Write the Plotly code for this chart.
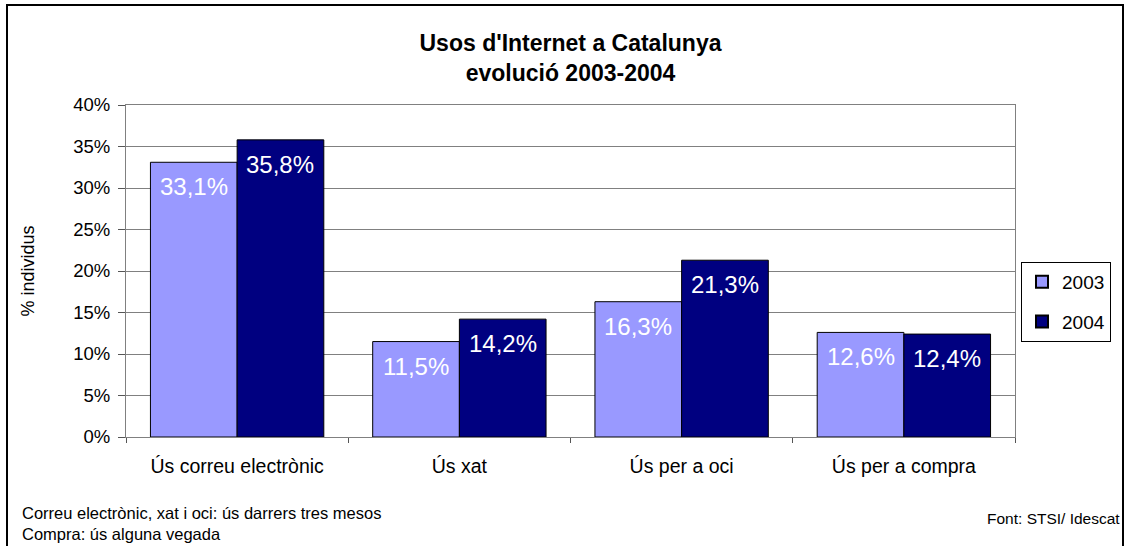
import plotly.graph_objects as go

categories = ["Ús correu electrònic", "Ús xat", "Ús per a oci", "Ús per a compra"]
years = ["2003", "2004"]
values_2003 = [33.1, 11.5, 16.3, 12.6]
values_2004 = [35.8, 14.2, 21.3, 12.4]
tick_values = [0, 5, 10, 15, 20, 25, 30, 35, 40]
tick_labels = ["0%", "5%", "10%", "15%", "20%", "25%", "30%", "35%", "40%"]

FONT = "Arial, Liberation Sans, sans-serif"
colors = {"2003": "#9999FF", "2004": "#000080"}

# plot area in pixels (for converting the outer frame to paper coords)
W, H = 1125, 546
L, R, T, B = 126, 110, 105, 109
pw, ph = W - L - R, H - T - B
BARGAP = 0.22


def px_to_paper_x(px):
    return (px - L) / pw


def px_to_paper_y(py):
    return (H - B - py) / ph


def fmt(v):
    return f"{v:.1f}%".replace(".", ",")


fig = go.Figure()
bar_px = pw / len(categories) * (1 - BARGAP) / 2
for i, (year, vals) in enumerate(zip(years, [values_2003, values_2004])):
    fig.add_trace(go.Bar(
        x=categories, y=vals, name=year, legendgroup=year,
        marker=dict(color=colors[year], line=dict(color="black", width=1)),
    ))
    # value labels near the top of each bar
    shift = (i - 0.5) * bar_px
    for c, v in zip(categories, vals):
        fig.add_annotation(
            x=c, y=v, xref="x", yref="y", text=fmt(v), showarrow=False,
            xshift=shift, yshift=-9, yanchor="top",
            font=dict(color="white", size=24, family=FONT),
        )

fig.update_layout(
    width=W, height=H,
    margin=dict(l=L, r=R, t=T, b=B, autoexpand=False),
    paper_bgcolor="white", plot_bgcolor="white",
    barmode="group", bargap=BARGAP, bargroupgap=0,
    font=dict(family=FONT, color="black"),
    title=dict(
        text="<b>Usos d'Internet a Catalunya<br>evolució 2003-2004</b>",
        x=0.5, xref="paper", xanchor="center",
        y=1 - 51 / H, yanchor="middle",
        font=dict(size=23, family=FONT, color="black"),
    ),
    legend=dict(
        x=px_to_paper_x(1021), xanchor="left",
        y=px_to_paper_y(262), yanchor="top",
        bordercolor="black", borderwidth=1,
        font=dict(size=19, family=FONT),
        tracegroupgap=12, itemsizing="constant",
        itemwidth=30,
    ),
    showlegend=True,
)

fig.update_yaxes(
    range=[0, 40], tickvals=tick_values, ticktext=tick_labels,
    showgrid=True, gridcolor="#808080", gridwidth=1,
    showline=True, linecolor="#808080", linewidth=1,
    ticks="outside", ticklen=7, tickcolor="#555555",
    tickfont=dict(size=18.5, family=FONT), ticklabelstandoff=4,
    title=dict(text="% individus", font=dict(size=18, family=FONT), standoff=33),
    mirror=True, zeroline=False,
)
fig.update_xaxes(
    showline=True, linecolor="#808080", linewidth=1, mirror=True,
    ticks="outside", tickson="boundaries", ticklen=5, tickcolor="#555555",
    tickfont=dict(size=19.5, family=FONT), ticklabelstandoff=12,
)

# outer chart frame
fig.add_shape(
    type="rect", xref="paper", yref="paper",
    x0=px_to_paper_x(7), x1=px_to_paper_x(1123),
    y0=px_to_paper_y(560), y1=px_to_paper_y(5),
    line=dict(color="black", width=2), fillcolor="rgba(0,0,0,0)",
    layer="below",
)

fig.add_annotation(
    text="Correu electrònic, xat i oci: ús darrers tres mesos<br>Compra: ús alguna vegada",
    xref="paper", yref="paper", x=px_to_paper_x(20), y=px_to_paper_y(523),
    xanchor="left", yanchor="middle", align="left", showarrow=False,
    font=dict(size=16.5, family=FONT),
)
fig.add_annotation(
    text="Font: STSI/ Idescat",
    xref="paper", yref="paper", x=px_to_paper_x(1122), y=px_to_paper_y(518),
    xanchor="right", yanchor="middle", showarrow=False,
    font=dict(size=15.5, family=FONT),
)

fig.write_html("out.html", config={"displayModeBar": False},
               post_script="document.body.style.margin='0';")
